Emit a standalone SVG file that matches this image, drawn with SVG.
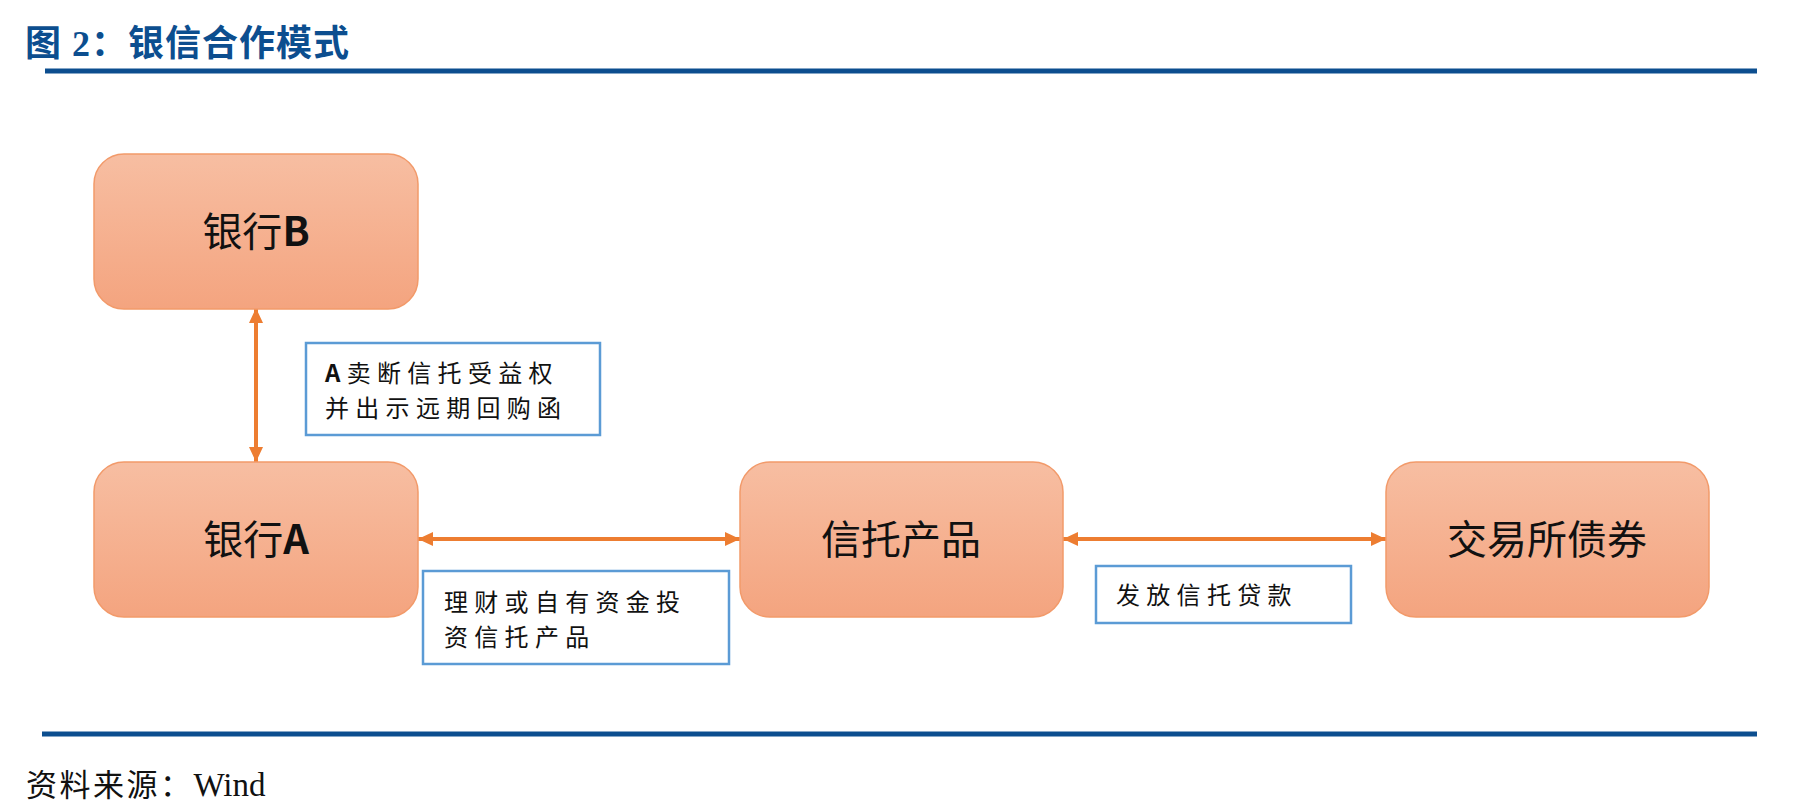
<svg xmlns="http://www.w3.org/2000/svg" width="1803" height="808" viewBox="0 0 1803 808">
<defs>
<linearGradient id="boxg" x1="0" y1="0" x2="0" y2="1">
<stop offset="0" stop-color="#f7bea2"/>
<stop offset="1" stop-color="#f4a47f"/>
</linearGradient>
<marker id="ah" viewBox="0 0 15 14" refX="15" refY="7" markerWidth="15" markerHeight="14" markerUnits="userSpaceOnUse" orient="auto-start-reverse">
<path d="M0,0 L15,7 L0,14 Z" fill="#ed7d31"/>
</marker>
<style>
.box{fill:url(#boxg);stroke:#f29a6a;stroke-width:1.5}
.bt{font-family:"Noto Sans CJK SC","Noto Sans",sans-serif;font-size:40px;fill:#111;text-anchor:middle}
.lab{fill:#fff;stroke:#5b9bd5;stroke-width:2.5}
.lt{font-family:"Noto Sans CJK SC","Noto Sans",sans-serif;font-size:24px;fill:#111;letter-spacing:6.3px}
.con{stroke:#ed7d31;stroke-width:4;fill:none;marker-start:url(#ah);marker-end:url(#ah)}
.rule{stroke:#0c4e8f;stroke-width:5}
</style>
</defs>
<rect width="1803" height="808" fill="#fff"/>
<text x="25" y="56" font-family="'Liberation Serif','Noto Sans CJK SC',serif" font-size="36" font-weight="bold" letter-spacing="1" fill="#0c4e8f">图 2：银信合作模式</text>
<line class="rule" x1="45" y1="71" x2="1757" y2="71"/>
<line class="rule" x1="42" y1="734" x2="1757" y2="734"/>
<text x="26" y="796" font-family="'Liberation Serif','Noto Sans CJK SC',serif" font-size="31" fill="#111" letter-spacing="2.5">资料来源：<tspan font-size="33" letter-spacing="0">Wind</tspan></text>
<g id="connectors">
<line class="con" x1="256" y1="308" x2="256" y2="462"/>
<line class="con" x1="418" y1="539" x2="740" y2="539"/>
<line class="con" x1="1063" y1="539" x2="1386" y2="539"/>
</g>
<g id="bankB">
<rect class="box" x="94" y="154" width="324" height="155" rx="30"/>
<text class="bt" x="256" y="246">银行<tspan font-weight="bold">B</tspan></text>
</g>
<g id="bankA">
<rect class="box" x="94" y="462" width="324" height="155" rx="30"/>
<text class="bt" x="256" y="554">银行<tspan font-weight="bold">A</tspan></text>
</g>
<g id="trust">
<rect class="box" x="740" y="462" width="323" height="155" rx="30"/>
<text class="bt" x="901" y="554">信托产品</text>
</g>
<g id="bond">
<rect class="box" x="1386" y="462" width="323" height="155" rx="30"/>
<text class="bt" x="1547" y="554">交易所债券</text>
</g>
<g id="label1">
<rect class="lab" x="306" y="343" width="294" height="92"/>
<text class="lt" x="325" y="382"><tspan font-weight="bold">A</tspan>卖断信托受益权</text>
<text class="lt" x="325" y="417">并出示远期回购函</text>
</g>
<g id="label2">
<rect class="lab" x="423" y="571" width="306" height="93"/>
<text class="lt" x="444" y="611">理财或自有资金投</text>
<text class="lt" x="444" y="646">资信托产品</text>
</g>
<g id="label3">
<rect class="lab" x="1096" y="566" width="255" height="57"/>
<text class="lt" x="1116" y="604">发放信托贷款</text>
</g>
</svg>
